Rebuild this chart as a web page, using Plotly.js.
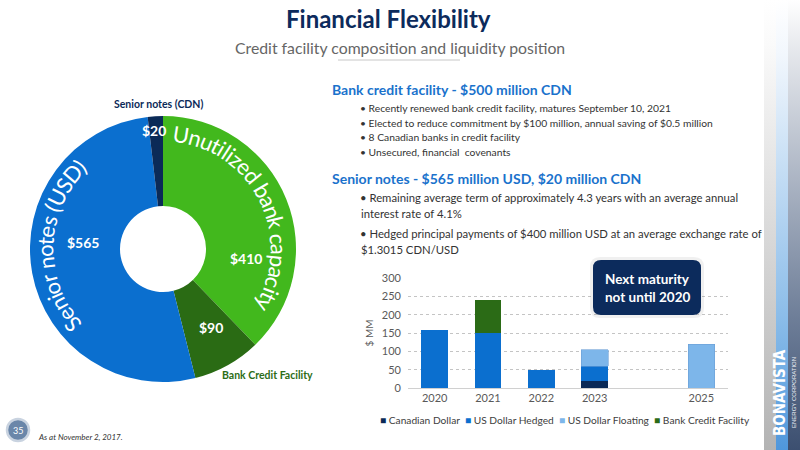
<!DOCTYPE html>
<html>
<head>
<meta charset="utf-8">
<script src="https://cdn.plot.ly/plotly-3.0.1.min.js"></script>
<style>html,body{margin:0;padding:0;background:#fff;}#chart{width:800px;height:450px;}</style>
</head>
<body>
<div id="chart"></div>
<script>
// ---------- DATA ----------
const donutLabels = ['Unutilized bank capacity', 'Bank Credit Facility', 'Senior notes (USD)', 'Senior notes (CDN)'];
const donutValues = [410, 90, 565, 20];
const donutColors = ['#42b81d', '#2a6b14', '#0b6fcf', '#0b2a57'];

const years = [2020, 2021, 2022, 2023, 2025];
const yearLabels = ['2020', '2021', '2022', '2023', '2025'];
const seriesNames = ['Canadian Dollar', 'US Dollar Hedged', 'US Dollar Floating', 'Bank Credit Facility'];
const canadianDollar = [null, null, null, 20, null];
const usDollarHedged = [160, 150, 50, 40, null];
const usDollarFloating = [null, null, null, 45, 120];
const bankCreditFacility = [null, 90, null, null, null];
const barColors = ['#0b2a57', '#0b6fcf', '#7db6ea', '#2b6b16'];

// ---------- HELPERS ----------
const W = 800, H = 450;
const X = x => x / W;
const Y = y => 1 - y / H;
const FONT = 'Lato, "Open Sans", sans-serif';

const annotations = [];
function txt(x, y, text, size, color, opts) {
  annotations.push(Object.assign({
    x: X(x), y: Y(y), xref: 'paper', yref: 'paper', text: text, showarrow: false,
    xanchor: 'center', yanchor: 'middle', font: {family: FONT, size: size, color: color}
  }, opts || {}));
}

// donut geometry (pixels)
const cx = 163, cy = 249, R = 133, holeR = 43;

// curved text along the ring
const ctx = document.createElement('canvas').getContext('2d');
function measure(str, size) {
  ctx.font = size + 'px Lato';
  return [...str].map(c => ctx.measureText(c).width);
}
function curved(str, size, r, midDeg, color) {
  const widths = measure(str, size);
  const total = widths.reduce((a, b) => a + b, 0);
  let s = -total / 2;
  [...str].forEach((c, i) => {
    const mid = s + widths[i] / 2;
    s += widths[i];
    if (c === ' ') return;
    const th = midDeg * Math.PI / 180 + mid / r;
    const x = cx + r * Math.sin(th), y = cy - r * Math.cos(th);
    let deg = th * 180 / Math.PI;
    while (deg > 180) deg -= 360;
    while (deg <= -180) deg += 360;
    annotations.push({x: X(x), y: Y(y), xref: 'paper', yref: 'paper', text: c, showarrow: false,
      textangle: deg, xanchor: 'center', yanchor: 'middle', borderpad: 0,
      font: {family: 'Lato', size: size, color: color}});
  });
}
const uStr = donutLabels[0], sStr = donutLabels[2];
const w100 = measure(uStr, 100).reduce((a, b) => a + b, 0);
const arcTarget = (122 - 5) * Math.PI / 180 * 116;
const curvedSize = Math.round(100 * arcTarget / w100 * 10) / 10;
curved(uStr, curvedSize, 116, 63.5, '#ffffff');
curved(sStr, curvedSize, 118, 272, '#ffffff');

// donut value labels
const bold14 = {family: FONT, size: 14, color: '#fff', weight: 'bold'};
txt(83, 242, '$' + donutValues[2], 14, '#ffffff', {font: bold14});
txt(246, 258, '$' + donutValues[0], 14, '#ffffff', {font: bold14});
txt(211, 327, '$' + donutValues[1], 14, '#ffffff', {font: bold14});
txt(154, 130, '$' + donutValues[3], 14, '#ffffff', {font: bold14});
txt(158, 104, donutLabels[3], 10.5, '#0b2a57', {font: {family: FONT, size: 10.5, color: '#0b2a57', weight: 'bold'}});
txt(267, 375, donutLabels[1], 10.5, '#2c6d17', {font: {family: FONT, size: 10.5, color: '#2c6d17', weight: 'bold'}});

// titles
txt(388, 18, 'Financial Flexibility', 24, '#0c2b5c', {font: {family: FONT, size: 24, color: '#0c2b5c', weight: 'bold'}});
txt(400, 47, 'Credit facility composition and liquidity position', 15.8, '#666666');

// text block
const blue = '#1a72cc', dark = '#333333';
txt(330, 90, 'Bank credit facility - $500 million CDN', 14, blue, {xanchor: 'left', font: {family: FONT, size: 14, color: blue, weight: 'bold'}});
const bullets1 = ['• Recently renewed bank credit facility, matures September 10, 2021',
  '• Elected to reduce commitment by $100 million, annual saving of $0.5 million',
  '• 8 Canadian banks in credit facility',
  '• Unsecured, financial  covenants'];
bullets1.forEach((b, i) => txt(358, 108 + i * 14.7, b, 10.3, dark, {xanchor: 'left'}));
txt(330, 178, 'Senior notes - $565 million USD, $20 million CDN', 14, blue, {xanchor: 'left', font: {family: FONT, size: 14, color: blue, weight: 'bold'}});
txt(358, 198, '• Remaining average term of approximately 4.3 years with an average annual', 11.3, dark, {xanchor: 'left'});
txt(359, 214, 'interest rate of 4.1%', 11.3, dark, {xanchor: 'left'});
txt(358, 233, '• Hedged principal payments of $400 million USD at an average exchange rate of', 11.3, dark, {xanchor: 'left'});
txt(359, 249, '$1.3015 CDN/USD', 11.3, dark, {xanchor: 'left'});

// maturity box text
txt(647, 279, 'Next maturity', 13.5, '#fff', {font: {family: FONT, size: 13.5, color: '#fff', weight: 'bold'}});
txt(647, 297, 'not until 2020', 13.5, '#fff', {font: {family: FONT, size: 13.5, color: '#fff', weight: 'bold'}});

// legend line
const legendText = seriesNames.map((n, i) => '<span style="color:' + barColors[i] + '">■</span> ' + n).join('  ');
txt(565, 420, legendText, 10.2, '#404040');

// footer
txt(18, 430, '35', 9, '#ffffff');
txt(36, 437, 'As at November 2, 2017.', 8, '#333333', {xanchor: 'left', font: {family: FONT, size: 8, color: '#333', style: 'italic'}});

// logo
txt(780, 393, 'BONAVISTA', 15, '#ffffff', {textangle: -90, font: {family: '"DejaVu Sans Condensed", "Liberation Sans Narrow", sans-serif', size: 15, color: '#fff', weight: 'bold'}});
txt(794, 393, 'ENERGY CORPORATION', 6, '#ffffff', {textangle: -90, font: {family: 'Liberation Sans, sans-serif', size: 6, color: '#eef2f8'}});

// rounded box path
function roundRect(x0, y0, x1, y1, r) {
  const rx = r / W, ry = r / H;
  const a = X(x0), b = X(x1), t = Y(y0), bt = Y(y1);
  return `M${a + rx},${t} L${b - rx},${t} Q${b},${t} ${b},${t - ry} L${b},${bt + ry} Q${b},${bt} ${b - rx},${bt} L${a + rx},${bt} Q${a},${bt} ${a},${bt + ry} L${a},${t - ry} Q${a},${t} ${a + rx},${t} Z`;
}

const shapes = [
  {type: 'line', xref: 'paper', yref: 'paper', x0: X(338), x1: X(460), y0: Y(60), y1: Y(60), line: {color: '#c8c8c8', width: 1}},
  {type: 'path', xref: 'paper', yref: 'paper', path: roundRect(590, 257, 704, 318, 10), fillcolor: 'rgba(0,0,0,0.06)', line: {width: 0}},
  {type: 'path', xref: 'paper', yref: 'paper', path: roundRect(593, 260, 701, 315, 8), fillcolor: '#0c2b5c', line: {width: 0}},
  {type: 'circle', xref: 'paper', yref: 'paper', x0: X(7), x1: X(29), y0: Y(419), y1: Y(441), fillcolor: '#6a86a9', line: {color: '#c9d3e0', width: 2.5}}
];

// sidebar gradient image
const svg = `<svg xmlns="http://www.w3.org/2000/svg" width="36" height="450" viewBox="0 0 36 450" preserveAspectRatio="none">
<defs>
<linearGradient id="g1" x1="0" y1="0" x2="0" y2="1"><stop offset="0" stop-color="#ffffff"/><stop offset="0.1" stop-color="#fafafa"/><stop offset="1" stop-color="#b3b3b3"/></linearGradient>
<linearGradient id="g2" x1="0" y1="0" x2="0" y2="1"><stop offset="0" stop-color="#ffffff"/><stop offset="0.12" stop-color="#f2f7fd"/><stop offset="0.7" stop-color="#8cbde9"/><stop offset="1" stop-color="#4f97dc"/></linearGradient>
<linearGradient id="g3" x1="0" y1="0" x2="0" y2="1"><stop offset="0" stop-color="#ffffff"/><stop offset="0.1" stop-color="#e8eaee"/><stop offset="0.7" stop-color="#6f7f99"/><stop offset="1" stop-color="#3c4f70"/></linearGradient>
</defs>
<rect x="0" y="0" width="12" height="450" fill="url(#g1)"/>
<rect x="12" y="0" width="12" height="450" fill="url(#g2)"/>
<rect x="24" y="0" width="12" height="450" fill="url(#g3)"/>
</svg>`;
const images = [{source: 'data:image/svg+xml;charset=utf-8,' + encodeURIComponent(svg), xref: 'paper', yref: 'paper',
  x: X(764), y: 1, sizex: 36 / W, sizey: 1, sizing: 'stretch', xanchor: 'left', yanchor: 'top', layer: 'below'}];

// ---------- TRACES ----------
const pie = {
  type: 'pie', labels: donutLabels, values: donutValues, sort: false, direction: 'clockwise', rotation: 0,
  hole: holeR / R, marker: {colors: donutColors, line: {width: 0}}, textinfo: 'none', hoverinfo: 'label+value',
  domain: {x: [X(cx - R), X(cx + R)], y: [Y(cy + R), Y(cy - R)]}, showlegend: false
};
const barSeries = [canadianDollar, usDollarHedged, usDollarFloating, bankCreditFacility];
const bars = barSeries.map((vals, i) => ({
  type: 'bar', x: years, y: vals, name: seriesNames[i], width: 0.5,
  marker: {color: barColors[i], line: {width: i === 2 ? 0.6 : 0, color: '#6a9fd6'}}, xaxis: 'x', yaxis: 'y', showlegend: false
}));

const layout = {
  width: W, height: H, margin: {l: 0, r: 0, t: 0, b: 0}, paper_bgcolor: '#fff', plot_bgcolor: 'rgba(0,0,0,0)',
  font: {family: FONT, color: '#595959'}, barmode: 'stack', bargap: 0.5,
  xaxis: {domain: [X(408), X(728)], anchor: 'y', range: [2019.5, 2025.5], tickvals: years, ticktext: yearLabels,
    tickfont: {size: 11, color: '#595959'}, showline: true, linecolor: '#d0d0d0', ticks: '', showgrid: false, zeroline: false, fixedrange: true},
  yaxis: {domain: [Y(388), Y(278)], anchor: 'x', range: [0, 301], tickvals: [0, 50, 100, 150, 200, 250, 300],
    tickfont: {size: 11, color: '#595959'}, showgrid: true, gridcolor: '#c4c4c4', griddash: 'dot', zeroline: false, ticks: '',
    ticklabelstandoff: 6, title: {text: '$ MM', font: {size: 10, color: '#595959'}, standoff: 6}},
  annotations: annotations, shapes: shapes, images: images
};

Plotly.newPlot('chart', [pie].concat(bars), layout, {displayModeBar: false, staticPlot: true});
</script>
</body>
</html>
